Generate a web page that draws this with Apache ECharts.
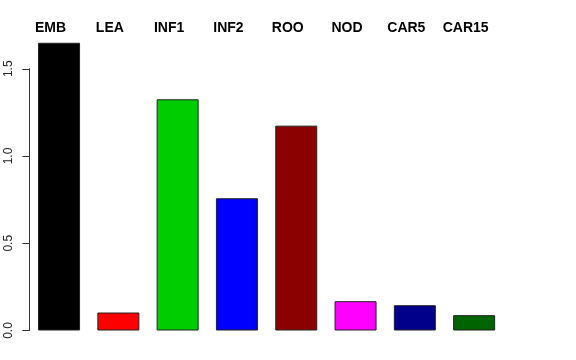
<!DOCTYPE html>
<html>
<head>
<meta charset="utf-8">
<script src="https://cdn.jsdelivr.net/npm/echarts@6/dist/echarts.min.js"></script>
<style>html,body{margin:0;padding:0;background:#fff;}#c{width:576px;height:360px;}</style>
</head>
<body>
<div id="c"></div>
<script>
var categories = ['EMB', 'LEA', 'INF1', 'INF2', 'ROO', 'NOD', 'CAR5', 'CAR15'];
var values = [1.649, 0.103, 1.325, 0.758, 1.174, 0.168, 0.145, 0.088];
var barColors = ['#000000', '#FF0000', '#00CD00', '#0000FF', '#8B0000', '#FF00FF', '#00008B', '#006400'];
var yTicks = [0, 0.5, 1.0, 1.5];

var chart = echarts.init(document.getElementById('c'), null, {renderer: 'canvas'});
var font = 'Liberation Sans, Arial, Helvetica, sans-serif';
chart.setOption({
  animation: false,
  backgroundColor: '#ffffff',
  grid: [
    {left: 29.4, right: 72.2, top: 42.6, bottom: 29.5},
    {left: 29.4, right: 72.2, top: 68.75, bottom: 29.5}
  ],
  xAxis: [
    {
      type: 'category', gridIndex: 0, position: 'top', data: categories,
      axisLine: {show: false}, axisTick: {show: false},
      axisLabel: {
        interval: 0, margin: 7, fontFamily: font, fontSize: 14, fontWeight: 'bold',
        color: '#000', padding: [0, 17, 0, 0]
      }
    },
    {type: 'category', gridIndex: 1, data: categories, show: false}
  ],
  yAxis: [
    {type: 'value', gridIndex: 0, min: 0, max: 1.65, show: false},
    {
      type: 'value', gridIndex: 1, min: yTicks[0], max: yTicks[yTicks.length - 1], interval: 0.5,
      splitLine: {show: false},
      axisLine: {show: true, lineStyle: {color: '#333', width: 1}},
      axisTick: {show: true, length: 7, lineStyle: {color: '#333', width: 1}},
      axisLabel: {
        rotate: 90, margin: 15, fontFamily: font, fontSize: 12, color: '#222',
        formatter: function (v) { return v.toFixed(1); }
      }
    }
  ],
  series: [{
    type: 'bar', xAxisIndex: 0, yAxisIndex: 0,
    barWidth: 42,
    data: values.map(function (v, i) {
      return {value: v, itemStyle: {color: barColors[i]}};
    }),
    itemStyle: {borderColor: '#222', borderWidth: 1}
  }]
});
</script>
</body>
</html>
